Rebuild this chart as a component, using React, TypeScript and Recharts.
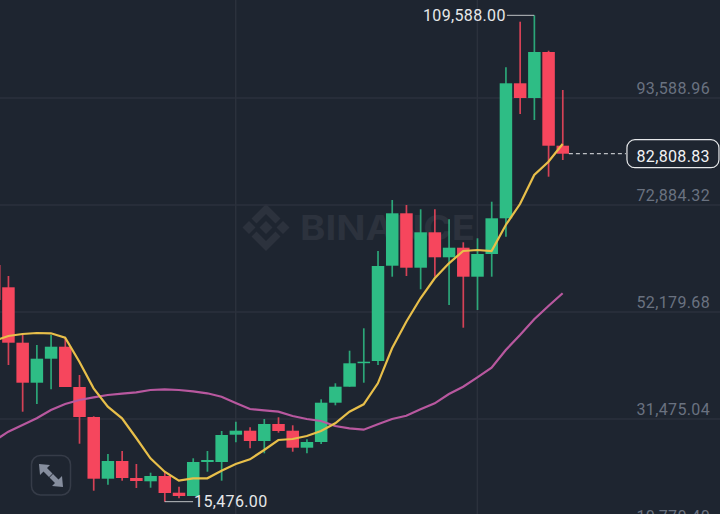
import React from "react";
import {
  ComposedChart,
  Bar,
  Line,
  XAxis,
  YAxis,
  CartesianGrid,
  ReferenceLine,
  ReferenceDot,
} from "recharts";

const positions = [-1, 0, 1, 2, 3, 4, 5, 6, 7, 8, 9, 10, 11, 12, 13, 14, 15, 16, 17, 18, 19, 20, 21, 22, 23, 24, 25, 26, 27, 28, 29, 30, 31, 32, 33, 34, 35, 36, 37, 38, 39];

const opens = [61274, 56959, 46240, 38500, 43144, 45466, 37667, 31862, 19924, 23348, 20059, 19420, 20446, 17215, 16576, 23155, 23155, 28438, 29212, 27218, 30508, 29212, 25922, 27025, 34630, 37726, 42370, 42698, 61139, 71278, 60752, 67602, 62764, 64622, 59011, 63403, 70311, 96433, 93589, 102490, 84359];
const highs = [61274, 59146, 47729, 45794, 47729, 47149, 39989, 31998, 24703, 25283, 22768, 21085, 21355, 18376, 23871, 25283, 29153, 30953, 29869, 31475, 31804, 30256, 27547, 35287, 38383, 44692, 49026, 63983, 73852, 72884, 72052, 72052, 70117, 65667, 66441, 73523, 99529, 108353, 109588, 102742, 95137];
const lows = [54502, 41924, 32888, 34378, 37222, 37667, 26696, 17602, 18763, 19537, 18124, 18182, 15476, 16131, 16576, 21278, 19537, 26967, 25806, 24838, 28825, 25148, 24838, 26638, 34126, 37726, 38500, 41924, 59011, 59146, 56572, 59011, 53534, 49142, 52567, 59011, 66751, 90493, 89332, 78361, 81592];
const closes = [54502, 46240, 38500, 43144, 45466, 37667, 31862, 19924, 23348, 20059, 19478, 20446, 17156, 16576, 23155, 23542, 28379, 29212, 27218, 30508, 29153, 25922, 27025, 34630, 37726, 42253, 42563, 61081, 71278, 60752, 67602, 62764, 64622, 59011, 63403, 70311, 96433, 93589, 102490, 84359, 82808.83];
const fastAverage = [46568, 47536, 47923, 48116, 48058, 47207, 42563, 37416, 33856, 31611, 27799, 23871, 21278, 19537, 20001, 20001, 21472, 22768, 23677, 25477, 27412, 27605, 28186, 29153, 30643, 32888, 34320, 38383, 45156, 50303, 54831, 58701, 61603, 63983, 64177, 63983, 69014, 73078, 78689, 81263, 84688];
const slowAverage = [27218, 29018, 30314, 31611, 33217, 34378, 35152, 35674, 36119, 36371, 36642, 37087, 37222, 37087, 36835, 36448, 35791, 34571, 33410, 33159, 32888, 32056, 31475, 31088, 30121, 29676, 29405, 30450, 31475, 32114, 33352, 34513, 36313, 37726, 39544, 41402, 44827, 47729, 50767, 53341, 55798];

const priceTicks = [93588.96, 72884.32, 52179.68, 31475.04, 10770.4];
const verticalGrid = [16, 33];
const xDomain = [-1.991, 50.07];
const yDomain = [8062, 112552];

const HIGH_VALUE = 109588;
const LOW_VALUE = 15476;
const LAST_VALUE = 82808.83;

const rows = positions.map((pos, i) => ({
  pos,
  open: opens[i],
  high: highs[i],
  low: lows[i],
  close: closes[i],
  fast: fastAverage[i],
  slow: slowAverage[i],
}));

const UP = "#2ebd85";
const DOWN = "#f6465d";
const BG = "#1e2530";
const GRID = "#2b313c";
const AXIS_TEXT = "#6a7280";
const WHITE = "#e6e8ea";
const FONT = "Roboto, sans-serif";

const fmt = (v: number) =>
  v.toLocaleString("en-US", { minimumFractionDigits: 2, maximumFractionDigits: 2 });

function Candle(props: any) {
  const { x, y, width, height, payload } = props;
  const { open, high, low, close } = payload;
  const perUnit = height / (high - low);
  const up = close >= open;
  const colour = up ? UP : DOWN;
  const top = y + (high - Math.max(open, close)) * perUnit;
  const bodyH = Math.max(Math.abs(open - close) * perUnit, 1.5);
  const cx = x + width / 2;
  return (
    <g>
      <line x1={cx} x2={cx} y1={y} y2={y + height} stroke={colour} strokeWidth={1.7} strokeOpacity={0.85} />
      <rect x={x} y={top} width={width} height={bodyH} fill={colour} />
    </g>
  );
}

function PriceTick(props: any) {
  const { y, payload } = props;
  return (
    <text
      x={730}
      y={y - 10}
      textAnchor="end"
      dominantBaseline="central"
      fill={AXIS_TEXT}
      fontFamily={FONT}
      fontSize={16}
      letterSpacing={0.35}
    >
      {fmt(payload.value)}
    </text>
  );
}

function SideLabel(props: any) {
  const { cx, cy, text, anchor } = props;
  return (
    <text
      x={cx}
      y={cy}
      textAnchor={anchor}
      dominantBaseline="central"
      fill={WHITE}
      fontFamily={FONT}
      fontSize={16}
      letterSpacing={0.35}
    >
      {text}
    </text>
  );
}

function LastLabel(props: any) {
  const { cx, cy } = props;
  return (
    <g>
      <rect x={cx - 46} y={cy - 14} width={92} height={28} rx={8} fill={BG} stroke={WHITE} strokeWidth={1.2} />
      <text
        x={cx + 37}
        y={cy + 2.5}
        textAnchor="end"
        dominantBaseline="central"
        fill="#f2f3f4"
        fontFamily={FONT}
        fontSize={16}
        letterSpacing={0.35}
      >
        {fmt(LAST_VALUE)}
      </text>
    </g>
  );
}

function Watermark() {
  return (
    <svg width={720} height={514} style={{ position: "absolute", left: 0, top: 0 }}>
      <g fill="#2c323d" transform="translate(266 227.5)">
        <polygon points="0,-6.5 6.5,0 0,6.5 -6.5,0" />
        <polygon points="-17,-6.5 -10.5,0 -17,6.5 -23.5,0" />
        <polygon points="17,-6.5 23.5,0 17,6.5 10.5,0" />
        <polygon points="0,-23.5 14.5,-9 9.5,-4 0,-13.5 -9.5,-4 -14.5,-9" />
        <polygon points="0,23.5 14.5,9 9.5,4 0,13.5 -9.5,4 -14.5,9" />
      </g>
      <text
        x={300}
        y={240}
        fill="#2c323d"
        fontFamily="Inter, sans-serif"
        fontWeight={700}
        fontSize={34}
        textLength={175}
        lengthAdjust="spacingAndGlyphs"
      >
        BINANCE
      </text>
    </svg>
  );
}

function ExpandIcon() {
  return (
    <svg width={720} height={514} style={{ position: "absolute", left: 0, top: 0 }}>
      <rect x={31.5} y={455.5} width={39} height={39.5} rx={9} fill="none" stroke="#363c48" strokeWidth={1.5} />
      <g fill="#868e9e">
        <polygon points="39,464 50,465 47,468 52.5,473.5 49,477 43.5,471.5 40,475" />
        <polygon points="63,487 52,486 55,483 49.5,477.5 53,474 58.5,479.5 62,476" />
      </g>
    </svg>
  );
}

export default function App() {
  return (
    <div style={{ position: "fixed", left: 0, top: 0, width: 720, height: 514, overflow: "hidden", background: BG }}>
      <Watermark />
      <div style={{ position: "absolute", left: -20, top: 0 }}>
        <ComposedChart
          width={740}
          height={540}
          data={rows}
          margin={{ top: 0, right: 0, bottom: 0, left: 0 }}
          barSize={12.5}
        >
          <CartesianGrid stroke={GRID} strokeWidth={1.5} horizontalValues={priceTicks.slice(0, 4)} verticalValues={verticalGrid} />
          <XAxis dataKey="pos" type="number" domain={xDomain} hide allowDataOverflow />
          <YAxis
            orientation="right"
            mirror
            width={80}
            type="number"
            domain={yDomain}
            ticks={priceTicks}
            interval={0}
            axisLine={false}
            tickLine={false}
            tick={(p: any) => <PriceTick {...p} />}
          />
          <Bar dataKey={(d: any) => [d.low, d.high]} shape={<Candle />} isAnimationActive={false} />
          <Line dataKey="slow" stroke="#b8589f" strokeWidth={2.2} dot={false} type="linear" isAnimationActive={false} />
          <Line dataKey="fast" stroke="#e8bf4a" strokeWidth={2.2} dot={false} type="linear" isAnimationActive={false} />
          <ReferenceLine segment={[{ x: 35.08, y: HIGH_VALUE }, { x: 37, y: HIGH_VALUE }]} stroke={WHITE} strokeWidth={1} strokeOpacity={0.8} />
          <ReferenceLine segment={[{ x: 11, y: LOW_VALUE }, { x: 13, y: LOW_VALUE }]} stroke={WHITE} strokeWidth={1} strokeOpacity={0.8} />
          <ReferenceLine segment={[{ x: 39.44, y: LAST_VALUE }, { x: 43.45, y: LAST_VALUE }]} stroke={WHITE} strokeWidth={1} strokeDasharray="4 3" />
          <ReferenceDot x={35} y={HIGH_VALUE} shape={<SideLabel text={fmt(HIGH_VALUE)} anchor="end" />} />
          <ReferenceDot x={13.07} y={LOW_VALUE} shape={<SideLabel text={fmt(LOW_VALUE)} anchor="start" />} />
          <ReferenceDot x={46.76} y={LAST_VALUE} shape={<LastLabel />} />
        </ComposedChart>
      </div>
      <ExpandIcon />
    </div>
  );
}
